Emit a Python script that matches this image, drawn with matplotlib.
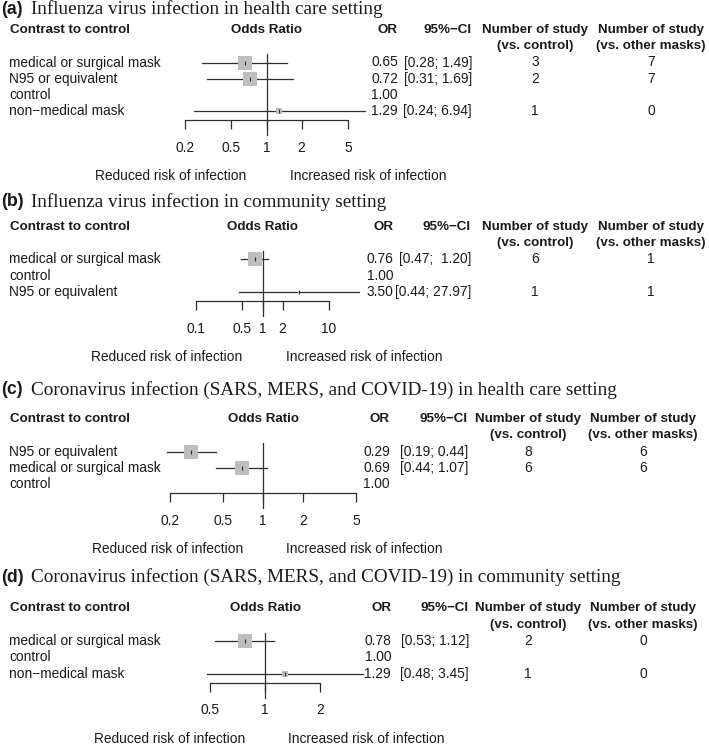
import matplotlib
matplotlib.use("Agg")
import matplotlib.pyplot as plt
from matplotlib.transforms import blended_transform_factory, offset_copy
from matplotlib.ticker import FixedLocator, FixedFormatter, NullLocator

# ---------------- data ----------------
a_title = "Influenza virus infection in health care setting"
a_labels = ["medical or surgical mask", "N95 or equivalent", "control", "non\u2212medical mask"]
a_or = [0.65, 0.72, 1.00, 1.29]
a_lo = [0.28, 0.31, None, 0.24]
a_hi = [1.49, 1.69, None, 6.94]
a_n_control = [3, 2, None, 1]
a_n_other = [7, 7, None, 0]
a_weight = [1.0, 1.0, None, 0.5]
a_ticks = [0.2, 0.5, 1, 2, 5]

b_title = "Influenza virus infection in community setting"
b_labels = ["medical or surgical mask", "control", "N95 or equivalent"]
b_or = [0.76, 1.00, 3.50]
b_lo = [0.47, None, 0.44]
b_hi = [1.20, None, 27.97]
b_n_control = [6, None, 1]
b_n_other = [1, None, 1]
b_weight = [0.95, None, 0.2]
b_ticks = [0.1, 0.5, 1, 2, 10]

c_title = "Coronavirus infection (SARS, MERS, and COVID-19) in health care setting"
c_labels = ["N95 or equivalent", "medical or surgical mask", "control"]
c_or = [0.29, 0.69, 1.00]
c_lo = [0.19, 0.44, None]
c_hi = [0.44, 1.07, None]
c_n_control = [8, 6, None]
c_n_other = [6, 6, None]
c_weight = [1.0, 1.0, None]
c_ticks = [0.2, 0.5, 1, 2, 5]

d_title = "Coronavirus infection (SARS, MERS, and COVID-19) in community setting"
d_labels = ["medical or surgical mask", "control", "non\u2212medical mask"]
d_or = [0.78, 1.00, 1.29]
d_lo = [0.53, None, 0.48]
d_hi = [1.12, None, 3.45]
d_n_control = [2, None, 1]
d_n_other = [0, None, 0]
d_weight = [1.04, None, 0.37]
d_ticks = [0.5, 1, 2]

left_label = "Reduced risk of infection"
right_label = "Increased risk of infection"

# ---------------- layout / style ----------------
W, H, DPI = 709, 746, 100
SANS = "Liberation Sans"
SERIF = "Liberation Serif"
FS = 9.9
FSB = 9.6
SP = 16.3           # row spacing in px
BOX = 13.8          # box side (px) for weight 1
INK = "#1a1a1a"
LINE = "#2e2e2e"
BOXC = "#BEBEBE"

fig = plt.figure(figsize=(W / DPI, H / DPI), dpi=DPI)
fig.patch.set_facecolor("white")

panels = [
    ("(a)", a_title, a_labels, a_or, a_lo, a_hi, a_n_control, a_n_other, a_weight, a_ticks,
     dict(title_y=9, row0=62.5, x0=185, x1=348, or_x=398, ci_x=472, n1=535, n2=651)),
    ("(b)", b_title, b_labels, b_or, b_lo, b_hi, b_n_control, b_n_other, b_weight, b_ticks,
     dict(title_y=202, row0=259.5, x0=196, x1=329, or_x=393, ci_x=471, n1=535, n2=651)),
    ("(c)", c_title, c_labels, c_or, c_lo, c_hi, c_n_control, c_n_other, c_weight, c_ticks,
     dict(title_y=390, row0=451.5, x0=170, x1=356, or_x=390, ci_x=468, n1=528, n2=643)),
    ("(d)", d_title, d_labels, d_or, d_lo, d_hi, d_n_control, d_n_other, d_weight, d_ticks,
     dict(title_y=577, row0=641, x0=210, x1=320, or_x=391, ci_x=469, n1=528, n2=643)),
]

for tag, title, labels, ors, los, his, nc, no, wts, ticks, L in panels:
    n = len(labels)
    row0 = L["row0"]
    axis_y = row0 + (n - 1) * SP + 9
    top_y = row0 - SP
    ax = fig.add_axes([L["x0"] / W, 1 - axis_y / H, (L["x1"] - L["x0"]) / W, (axis_y - top_y) / H])
    ax.set_xscale("log")
    ax.set_xlim(ticks[0], ticks[-1])
    ybot = (axis_y - row0) / SP
    ax.set_ylim(ybot, -1)
    ax.patch.set_alpha(0)
    for s in ["top", "left", "right"]:
        ax.spines[s].set_visible(False)
    ax.spines["bottom"].set_color(LINE)
    ax.spines["bottom"].set_linewidth(0.9)
    ax.yaxis.set_visible(False)
    ax.xaxis.set_major_locator(FixedLocator(ticks))
    ax.xaxis.set_major_formatter(FixedFormatter([f"{t:g}" for t in ticks]))
    ax.xaxis.set_minor_locator(NullLocator())
    ax.tick_params(axis="x", direction="out", length=6.5, width=0.9, color=LINE,
                   labelsize=FS, labelcolor=INK, pad=8.5)
    for lab in ax.get_xticklabels():
        lab.set_fontfamily(SANS)

    # reference line
    ax.plot([1, 1], [-0.5, ybot + 15 / SP], color=LINE, lw=0.9, clip_on=False, zorder=1)

    for i in range(n):
        if los[i] is not None:
            ax.plot([los[i], his[i]], [i, i], color=LINE, lw=0.9, clip_on=False, zorder=2)
        if wts[i] is not None:
            side = BOX * wts[i] * 72 / DPI
            ax.scatter([ors[i]], [i], marker="s", s=side ** 2, color=BOXC, linewidths=0,
                       zorder=3, clip_on=False)
            ax.plot([ors[i]], [i], marker="|", ms=3.2, mew=0.8, color=LINE, zorder=4,
                    clip_on=False)

    tr = blended_transform_factory(fig.transFigure, ax.transData)

    # title
    ty = 1 - L["title_y"] / H
    fig.text(1 / W, ty, tag, fontfamily=SANS, fontweight="bold", fontsize=12.8,
             va="center", ha="left", color=INK)
    fig.text(31 / W, ty, title, fontfamily=SERIF, fontsize=13.8, va="center", ha="left",
             color=INK)

    # headers
    hk = dict(fontfamily=SANS, fontweight="bold", fontsize=FSB, color=INK, va="center")
    ax.text(10 / W, -2, "Contrast to control", transform=tr, ha="left", **hk)
    ax.text(0.5, -2, "Odds Ratio", transform=blended_transform_factory(ax.transAxes, ax.transData),
            ha="center", **hk)
    ax.text(L["or_x"] / W, -2, "OR", transform=tr, ha="right", **hk)
    ax.text(L["ci_x"] / W, -2, "95%\u2212CI", transform=tr, ha="right", **hk)
    ax.text(L["n1"] / W, -2, "Number of study", transform=tr, ha="center", **hk)
    ax.text(L["n1"] / W, -1, "(vs. control)", transform=tr, ha="center", **hk)
    ax.text(L["n2"] / W, -2, "Number of study", transform=tr, ha="center", **hk)
    ax.text(L["n2"] / W, -1, "(vs. other masks)", transform=tr, ha="center", **hk)

    # rows
    his_valid = [h for h in his if h is not None]
    wh = max(len(f"{h:.2f}") for h in his_valid)
    los_valid = [l for l in los if l is not None]
    wl = max(len(f"{l:.2f}") for l in los_valid)
    rk = dict(fontfamily=SANS, fontsize=FS, color=INK, va="center")
    for i in range(n):
        ax.text(9 / W, i, labels[i], transform=tr, ha="left", **rk)
        ax.text(L["or_x"] / W, i, f"{ors[i]:.2f}", transform=tr, ha="right", **rk)
        if los[i] is not None:
            ci = f"[{los[i]:>{wl}.2f}; {his[i]:>{wh}.2f}]"
            ax.text(L["ci_x"] / W, i, ci, transform=tr, ha="right", **rk)
        if nc[i] is not None:
            ax.text(L["n1"] / W, i, f"{nc[i]}", transform=tr, ha="center", **rk)
        if no[i] is not None:
            ax.text(L["n2"] / W, i, f"{no[i]}", transform=tr, ha="center", **rk)

    # direction labels
    ly = (axis_y + 56 - row0) / SP
    ax.text(1, ly, left_label, transform=offset_copy(ax.transData, fig=fig, x=-20, y=0, units="dots"),
            ha="right", **rk)
    ax.text(1, ly, right_label, transform=offset_copy(ax.transData, fig=fig, x=23, y=0, units="dots"),
            ha="left", **rk)

fig.savefig("out.png", dpi=DPI, facecolor="white")
